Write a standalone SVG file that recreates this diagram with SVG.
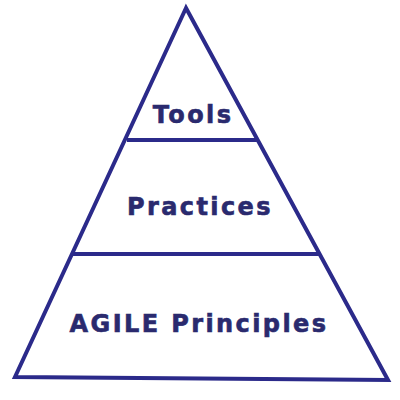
<svg xmlns="http://www.w3.org/2000/svg" width="400" height="400" viewBox="0 0 400 400">
<style>
.ln{stroke:#2b2a8a;stroke-width:4;fill:none;stroke-linejoin:miter;stroke-linecap:butt}
.t{font-family:"DejaVu Sans",Verdana,sans-serif;font-weight:bold;font-size:24px;fill:#2a2a6e;stroke:#2a2a6e;stroke-width:0.6;text-anchor:middle;letter-spacing:2.4px}
</style>
<rect width="400" height="400" fill="#ffffff"/>
<g id="connectors">
<polygon class="ln" points="186,8 15,377 388,380"/>
<line class="ln" x1="127" y1="140" x2="257" y2="140"/>
<line class="ln" x1="73" y1="254" x2="320" y2="254"/>
</g>
<g id="tools"><text class="t" x="193" y="123">Tools</text></g>
<g id="practices"><text class="t" x="200" y="215">Practices</text></g>
<g id="principles"><text class="t" x="199" y="332">AGILE Principles</text></g>
</svg>
